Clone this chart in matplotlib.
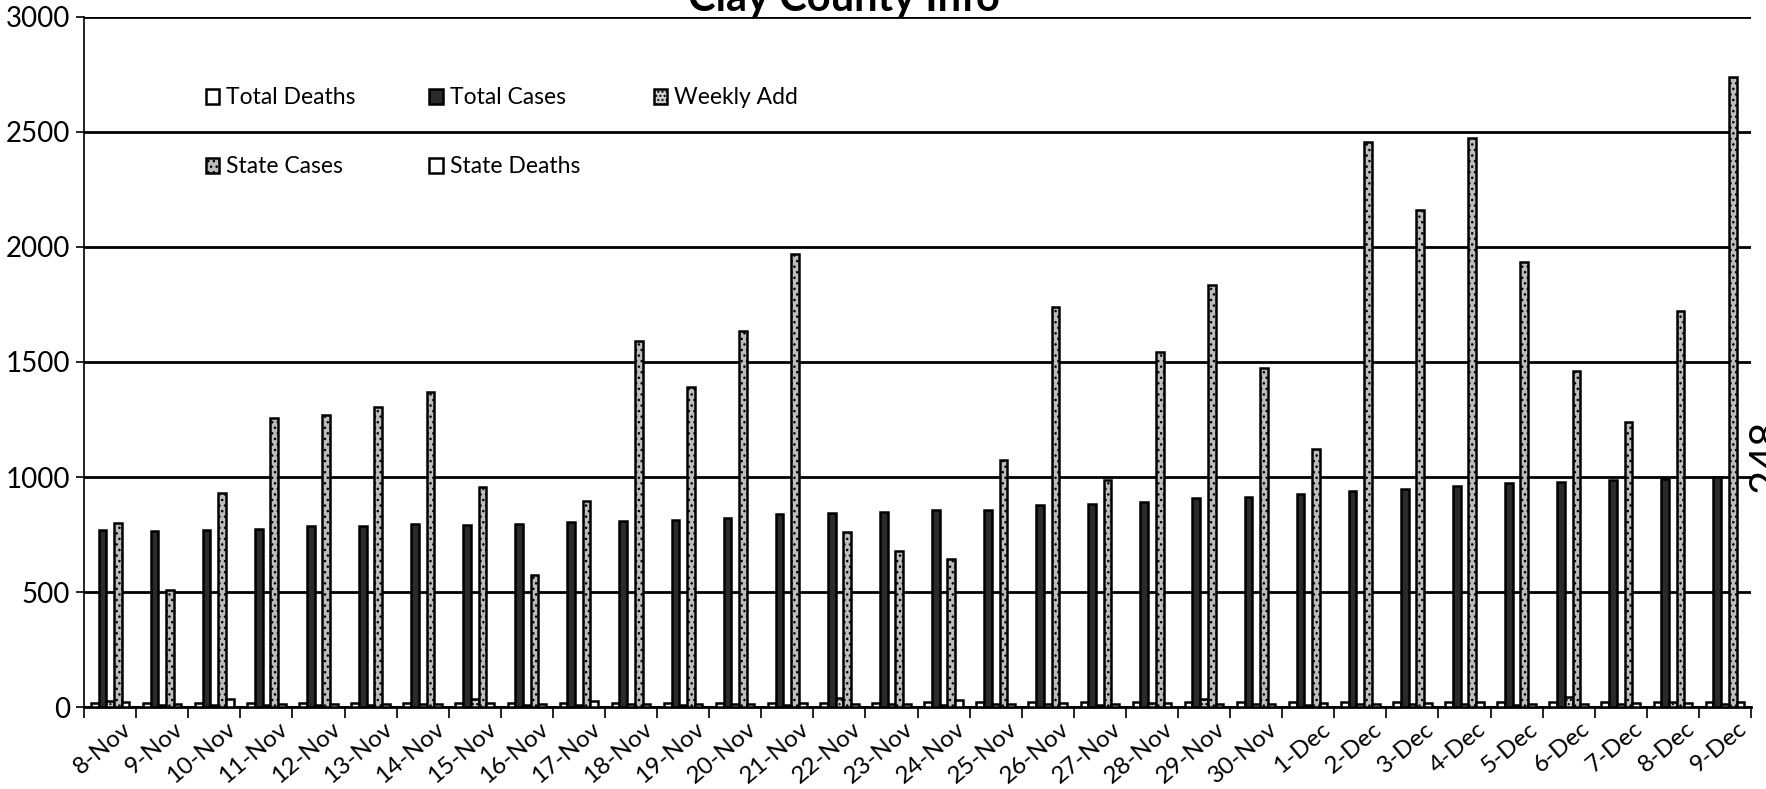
import numpy as np
import matplotlib as mpl
import matplotlib.pyplot as plt
from matplotlib.transforms import ScaledTranslation
mpl.use('Agg')

plt.rcParams['font.family'] = ['Lato', 'DejaVu Sans']

dates = ['8-Nov', '9-Nov', '10-Nov', '11-Nov', '12-Nov', '13-Nov', '14-Nov', '15-Nov',
         '16-Nov', '17-Nov', '18-Nov', '19-Nov', '20-Nov', '21-Nov', '22-Nov', '23-Nov',
         '24-Nov', '25-Nov', '26-Nov', '27-Nov', '28-Nov', '29-Nov', '30-Nov', '1-Dec',
         '2-Dec', '3-Dec', '4-Dec', '5-Dec', '6-Dec', '7-Dec', '8-Dec', '9-Dec']
total_deaths = [16, 16, 16, 17, 17, 17, 17, 18, 18, 18, 18, 18, 19, 19, 19, 19,
                20, 20, 20, 20, 21, 21, 21, 22, 22, 22, 23, 23, 23, 24, 24, 24]
total_cases = [770, 765, 770, 775, 785, 785, 795, 790, 795, 805, 810, 812, 822, 838, 844, 850,
               855, 856, 878, 883, 892, 908, 915, 925, 940, 950, 960, 975, 980, 985, 990, 1000]
weekly_add = [25, 8, 10, 8, 10, 10, 12, 35, 10, 8, 12, 10, 14, 10, 40, 12,
              10, 12, 14, 10, 16, 35, 12, 10, 14, 12, 15, 10, 45, 12, 20, 14]
state_cases = [800, 510, 930, 1255, 1270, 1305, 1368, 955, 575, 895, 1590, 1390, 1635, 1970, 760, 680,
               645, 1075, 1740, 985, 1545, 1835, 1475, 1120, 2455, 2160, 2475, 1935, 1460, 1240, 1720, 2740]
state_deaths = [20, 12, 35, 14, 12, 15, 14, 18, 12, 25, 14, 12, 15, 18, 12, 14,
                30, 14, 16, 12, 18, 14, 15, 16, 12, 18, 20, 15, 14, 16, 18, 20]

fig = plt.figure(figsize=(17.66, 7.89), dpi=100)
ax = fig.add_axes([0.0476, 0.1039, 0.9439, 0.8746])

x = np.arange(len(dates))
w = 0.148
series = [
    (total_deaths, 'Total Deaths', 'white', None),
    (total_cases, 'Total Cases', '#2a2a2a', None),
    (weekly_add, 'Weekly Add', '#d0d0d0', '....'),
    (state_cases, 'State Cases', '#bdbdbd', '...'),
    (state_deaths, 'State Deaths', 'white', None),
]
handles = []
for i, (vals, name, fc, hatch) in enumerate(series):
    b = ax.bar(x + (i - 2) * w, vals, width=w, color=fc, edgecolor='black',
               linewidth=1.8, hatch=hatch, label=name, zorder=3)
    handles.append(b)

ax.set_ylim(0, 3000)
ax.set_xlim(-0.5, len(dates) - 0.5)
ax.set_yticks(np.arange(0, 3001, 500))
ax.yaxis.grid(True, color='black', linewidth=2, zorder=1)
ax.tick_params(axis='y', labelsize=20, length=6, width=1.2, pad=4)

ax.set_xticks(x)
ax.set_xticklabels(dates, rotation=40, ha='right', rotation_mode='anchor', fontsize=17.5)
ax.tick_params(axis='x', which='major', length=0, pad=8)
ax.set_xticks(np.arange(-0.5, len(dates)), minor=True)
ax.tick_params(axis='x', which='minor', length=8, width=1.2, direction='out')
for lab in ax.get_xticklabels():
    lab.set_transform(lab.get_transform() + ScaledTranslation(0.12, 0, fig.dpi_scale_trans))

for s in ['top', 'right']:
    ax.spines[s].set_visible(False)
ax.spines['left'].set_linewidth(1.2)
ax.spines['bottom'].set_linewidth(2)

# legend laid out row-wise: reorder for column filling
order = [0, 3, 1, 4, 2]
ax.legend([handles[i] for i in order], [series[i][1] for i in order],
          ncol=3, frameon=False, fontsize=16.5, loc='upper left',
          bbox_to_anchor=(0.073, 0.898), borderpad=0, borderaxespad=0,
          handlelength=0.6, handleheight=0.6, handletextpad=0.3,
          labelspacing=2.1, columnspacing=3.2)

fig.text(0.478, 1 - 11 / 789, 'Clay County Info', ha='center', va='baseline',
         fontsize=30, fontweight='bold')
fig.text(1748 / 1766, 1 - 456 / 789, '248', rotation=90, ha='left', va='center',
         fontsize=30)

plt.savefig('out.png', dpi=100)
